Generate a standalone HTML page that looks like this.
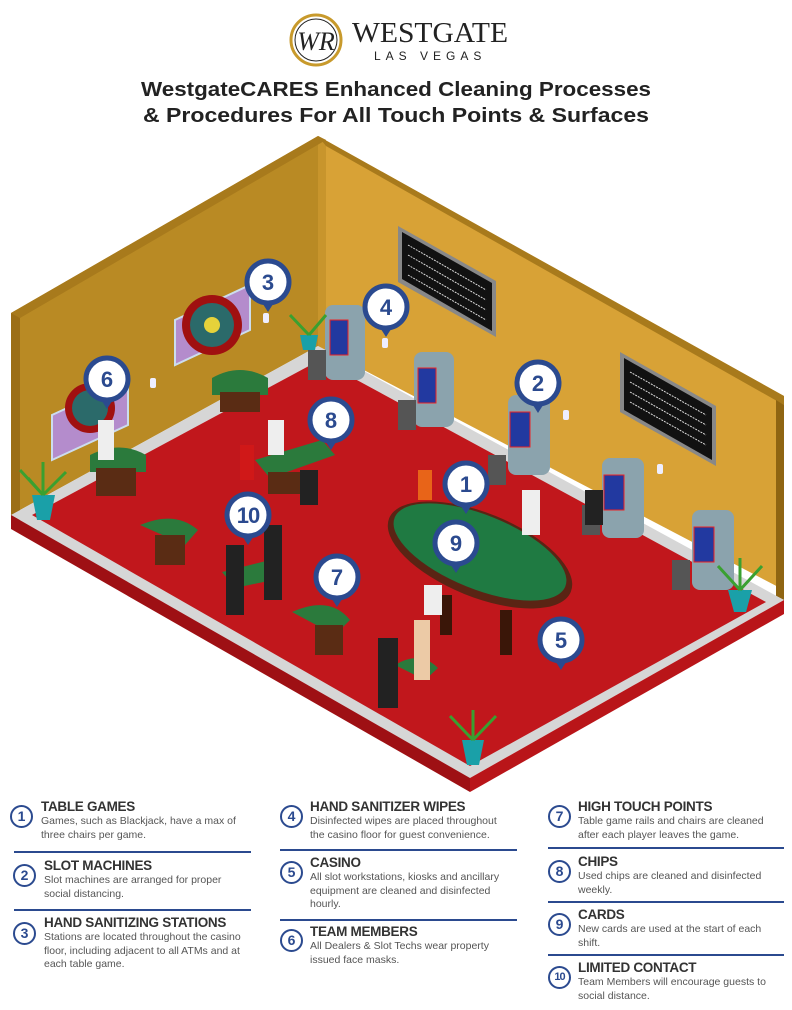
<!DOCTYPE html>
<html><head><meta charset="utf-8"><style>
html,body{margin:0;padding:0;background:#fff;}
body{width:792px;height:1010px;position:relative;overflow:hidden;font-family:"Liberation Sans",sans-serif;}
.t{position:absolute;font-weight:bold;font-size:13.5px;color:#333;letter-spacing:-0.3px;}
.d{position:absolute;font-size:10.5px;color:#555;line-height:13.5px;}
.c{position:absolute;width:19px;height:19px;border:2.5px solid #2b4a8f;border-radius:50%;color:#2b4a8f;font-weight:bold;font-size:14px;text-align:center;line-height:19px;background:#fff;}
.c.s{font-size:11px;letter-spacing:-1px;}
.l{position:absolute;height:2px;background:#2b4a8f;}
</style></head><body>
<svg width="792" height="1010" style="position:absolute;left:0;top:0">
<!-- logo -->
<circle cx="316" cy="40" r="25" fill="none" stroke="#c89a2c" stroke-width="3"/>
<circle cx="316" cy="40" r="21" fill="none" stroke="#222" stroke-width="1"/>
<text x="316" y="50" text-anchor="middle" font-family="Liberation Serif" font-style="italic" font-size="26" fill="#222">WR</text>
<text x="352" y="42" font-family="Liberation Serif" font-size="29" fill="#222" textLength="156" lengthAdjust="spacingAndGlyphs">WESTGATE</text>
<text x="374" y="60" font-family="Liberation Sans" font-size="12" fill="#222" letter-spacing="5">LAS VEGAS</text>
<text x="396" y="96" text-anchor="middle" font-weight="bold" font-size="20" fill="#222" textLength="510" lengthAdjust="spacingAndGlyphs">WestgateCARES Enhanced Cleaning Processes</text>
<text x="396" y="122" text-anchor="middle" font-weight="bold" font-size="20" fill="#222" textLength="506" lengthAdjust="spacingAndGlyphs">&amp; Procedures For All Touch Points &amp; Surfaces</text>

<!-- room -->
<polygon points="11,313 318,136 318,346 11,515" fill="#b98a24"/>
<polygon points="318,136 784,396 784,590 318,346" fill="#d8a236"/>
<polygon points="318,136 326,140 326,350 318,346" fill="#c8952c"/>
<polygon points="11,313 318,136 326,140 20,318" fill="#a87a1c"/>
<polygon points="318,136 784,396 784,405 326,146" fill="#a87a1c"/>
<polygon points="11,313 20,318 20,522 11,515" fill="#9c6e16"/>
<polygon points="776,400 784,405 784,600 776,596" fill="#8f6512"/>
<!-- floor -->
<polygon points="11,515 318,346 784,600 470,778" fill="#d6d6d6"/>
<polygon points="32,515 320,360 766,602 470,766" fill="#c1171c"/>
<polygon points="11,515 470,778 470,792 11,529" fill="#9e1014"/>
<polygon points="470,778 784,600 784,614 470,792" fill="#b91519"/>

<!-- boards -->
<polygon points="398,226 496,281 496,337 398,282" fill="#888"/>
<polygon points="402,232 492,283 492,331 402,279" fill="#111"/>
<polygon points="620,352 716,406 716,466 620,412" fill="#888"/>
<polygon points="624,358 712,408 712,460 624,410" fill="#111"/>
<g stroke="#ddd" stroke-width="1" stroke-dasharray="2 1">
<line x1="408" y1="245" x2="486" y2="290"/><line x1="408" y1="255" x2="486" y2="300"/><line x1="408" y1="265" x2="486" y2="310"/><line x1="408" y1="275" x2="486" y2="320"/>
<line x1="630" y1="372" x2="706" y2="415"/><line x1="630" y1="382" x2="706" y2="425"/><line x1="630" y1="392" x2="706" y2="435"/><line x1="630" y1="402" x2="706" y2="445"/>
</g>

<!-- wheels -->
<polygon points="175,320 250,285 250,330 175,365" fill="#b48ccc" stroke="#cde" stroke-width="2"/>
<circle cx="212" cy="325" r="30" fill="#a01010"/><circle cx="212" cy="325" r="22" fill="#2b6a6a"/><circle cx="212" cy="325" r="8" fill="#e6d23a"/>
<polygon points="52,415 128,380 128,425 52,460" fill="#b48ccc" stroke="#cde" stroke-width="2"/>
<circle cx="90" cy="408" r="25" fill="#a01010"/><circle cx="90" cy="408" r="18" fill="#2b6a6a"/>

<!-- sanitizers -->
<g fill="#eef">
<rect x="263" y="313" width="6" height="10" rx="2"/><rect x="150" y="378" width="6" height="10" rx="2"/><rect x="382" y="338" width="6" height="10" rx="2"/>
<rect x="563" y="410" width="6" height="10" rx="2"/><rect x="657" y="464" width="6" height="10" rx="2"/>
</g>

<!-- slot machines -->
<g>
<rect x="325" y="305" width="40" height="75" rx="8" fill="#8ba3ad"/><rect x="330" y="320" width="18" height="35" fill="#2239a0" stroke="#e22"/>
<rect x="414" y="352" width="40" height="75" rx="8" fill="#8ba3ad"/><rect x="418" y="368" width="18" height="35" fill="#2239a0" stroke="#e22"/>
<rect x="508" y="395" width="42" height="80" rx="8" fill="#8ba3ad"/><rect x="510" y="412" width="20" height="35" fill="#2239a0" stroke="#e22"/>
<rect x="602" y="458" width="42" height="80" rx="8" fill="#8ba3ad"/><rect x="604" y="475" width="20" height="35" fill="#2239a0" stroke="#e22"/>
<rect x="692" y="510" width="42" height="80" rx="8" fill="#8ba3ad"/><rect x="694" y="527" width="20" height="35" fill="#2239a0" stroke="#e22"/>
</g>
<g fill="#555">
<rect x="308" y="350" width="18" height="30"/><rect x="398" y="400" width="18" height="30"/><rect x="488" y="455" width="18" height="30"/>
<rect x="582" y="505" width="18" height="30"/><rect x="672" y="560" width="18" height="30"/>
</g>

<!-- small tables -->
<g>
<path d="M212,378 Q240,362 268,378 L268,395 L212,395Z" fill="#2b7a3c"/><rect x="220" y="392" width="40" height="20" fill="#5a2c14"/>
<path d="M90,455 Q120,440 146,455 L146,472 L90,472Z" fill="#2b7a3c"/><rect x="96" y="468" width="40" height="28" fill="#5a2c14"/>
<path d="M255,460 L322,440 L335,455 L270,478Z" fill="#2b7a3c"/><rect x="268" y="472" width="45" height="22" fill="#5a2c14"/>
<path d="M140,525 Q175,510 198,530 L185,545 Z" fill="#2b7a3c"/><rect x="155" y="535" width="30" height="30" fill="#5a2c14"/>
<path d="M222,572 L270,560 L273,580 L235,588Z" fill="#2b7a3c"/>
<path d="M292,612 Q330,595 350,620 L335,635 Z" fill="#2b7a3c"/><rect x="315" y="625" width="28" height="30" fill="#5a2c14"/>
<path d="M395,665 Q420,650 438,668 L425,680 Z" fill="#2b7a3c"/>
</g>
<ellipse cx="480" cy="555" rx="98" ry="42" transform="rotate(22 480 555)" fill="#5a2414"/>
<ellipse cx="480" cy="552" rx="92" ry="37" transform="rotate(22 480 552)" fill="#1f7a42"/>
<rect x="440" y="595" width="12" height="40" fill="#3a1608"/><rect x="500" y="610" width="12" height="45" fill="#3a1608"/>

<!-- people -->
<g fill="#222">
<rect x="98" y="420" width="16" height="40" fill="#eee"/><rect x="268" y="420" width="16" height="35" fill="#eee"/>
<rect x="418" y="470" width="14" height="30" fill="#e86418"/><rect x="522" y="490" width="18" height="45" fill="#eee"/>
<rect x="424" y="585" width="18" height="30" fill="#eee"/><rect x="414" y="620" width="16" height="60" fill="#eccaa6"/>
<rect x="378" y="638" width="20" height="70"/><rect x="226" y="545" width="18" height="70"/><rect x="264" y="525" width="18" height="75"/>
<rect x="240" y="445" width="14" height="35" fill="#d01818"/><rect x="300" y="470" width="18" height="35"/>
<rect x="585" y="490" width="18" height="35"/>
</g>
<!-- plants -->
<g>
<path d="M32,495 L55,495 L50,520 L37,520Z" fill="#1aa0a8"/><path d="M43,495 L20,470 M43,495 L66,472 M43,495 L43,462 M43,495 L28,478 M43,495 L58,480" stroke="#3aa030" stroke-width="3"/>
<path d="M728,590 L752,590 L746,612 L734,612Z" fill="#1aa0a8"/><path d="M740,590 L718,566 M740,590 L762,566 M740,590 L740,558" stroke="#3aa030" stroke-width="3"/>
<path d="M462,740 L484,740 L479,765 L467,765Z" fill="#1aa0a8"/><path d="M473,740 L450,716 M473,740 L496,716 M473,740 L473,710" stroke="#3aa030" stroke-width="3"/>
<path d="M300,335 L318,335 L315,350 L303,350Z" fill="#1aa0a8"/><path d="M309,335 L290,315 M309,335 L326,315" stroke="#3aa030" stroke-width="3"/>
</g>

<!-- markers -->
<g font-family="Liberation Sans" font-weight="bold" font-size="22" fill="#2b4a8f" text-anchor="middle">
<g transform="translate(268,282)"><path d="M-7,19 L0,30 L7,19Z" fill="#2b4a8f"/><circle r="21" fill="#fff" stroke="#2b4a8f" stroke-width="5"/><text y="8">3</text></g>
<g transform="translate(386,307)"><path d="M-7,19 L0,30 L7,19Z" fill="#2b4a8f"/><circle r="21" fill="#fff" stroke="#2b4a8f" stroke-width="5"/><text y="8">4</text></g>
<g transform="translate(107,379)"><path d="M-7,19 L0,30 L7,19Z" fill="#2b4a8f"/><circle r="21" fill="#fff" stroke="#2b4a8f" stroke-width="5"/><text y="8">6</text></g>
<g transform="translate(538,383)"><path d="M-7,19 L0,30 L7,19Z" fill="#2b4a8f"/><circle r="21" fill="#fff" stroke="#2b4a8f" stroke-width="5"/><text y="8">2</text></g>
<g transform="translate(331,420)"><path d="M-7,19 L0,30 L7,19Z" fill="#2b4a8f"/><circle r="21" fill="#fff" stroke="#2b4a8f" stroke-width="5"/><text y="8">8</text></g>
<g transform="translate(466,484)"><path d="M-7,19 L0,30 L7,19Z" fill="#2b4a8f"/><circle r="21" fill="#fff" stroke="#2b4a8f" stroke-width="5"/><text y="8">1</text></g>
<g transform="translate(456,543)"><path d="M-7,19 L0,30 L7,19Z" fill="#2b4a8f"/><circle r="21" fill="#fff" stroke="#2b4a8f" stroke-width="5"/><text y="8">9</text></g>
<g transform="translate(248,515)"><path d="M-7,19 L0,30 L7,19Z" fill="#2b4a8f"/><circle r="21" fill="#fff" stroke="#2b4a8f" stroke-width="5"/><text y="8" letter-spacing="-1">10</text></g>
<g transform="translate(337,577)"><path d="M-7,19 L0,30 L7,19Z" fill="#2b4a8f"/><circle r="21" fill="#fff" stroke="#2b4a8f" stroke-width="5"/><text y="8">7</text></g>
<g transform="translate(561,640)"><path d="M-7,19 L0,30 L7,19Z" fill="#2b4a8f"/><circle r="21" fill="#fff" stroke="#2b4a8f" stroke-width="5"/><text y="8">5</text></g>
</g>
</svg>

<div class="c" style="left:10px;top:805px">1</div>
<div class="t" style="left:41px;top:799px">TABLE GAMES</div>
<div class="d" style="left:41px;top:815px">Games, such as Blackjack, have a max of<br>three chairs per game.</div>
<div class="l" style="left:14px;top:851px;width:237px"></div>
<div class="c" style="left:13px;top:864px">2</div>
<div class="t" style="left:44px;top:858px">SLOT MACHINES</div>
<div class="d" style="left:44px;top:874px">Slot machines are arranged for proper<br>social distancing.</div>
<div class="l" style="left:14px;top:909px;width:237px"></div>
<div class="c" style="left:13px;top:922px">3</div>
<div class="t" style="left:44px;top:915px">HAND SANITIZING STATIONS</div>
<div class="d" style="left:44px;top:931px">Stations are located throughout the casino<br>floor, including adjacent to all ATMs and at<br>each table game.</div>
<div class="c" style="left:280px;top:805px">4</div>
<div class="t" style="left:310px;top:799px">HAND SANITIZER WIPES</div>
<div class="d" style="left:310px;top:815px">Disinfected wipes are placed throughout<br>the casino floor for guest convenience.</div>
<div class="l" style="left:280px;top:849px;width:237px"></div>
<div class="c" style="left:280px;top:861px">5</div>
<div class="t" style="left:310px;top:855px">CASINO</div>
<div class="d" style="left:310px;top:871px">All slot workstations, kiosks and ancillary<br>equipment are cleaned and disinfected<br>hourly.</div>
<div class="l" style="left:280px;top:919px;width:237px"></div>
<div class="c" style="left:280px;top:929px">6</div>
<div class="t" style="left:310px;top:924px">TEAM MEMBERS</div>
<div class="d" style="left:310px;top:940px">All Dealers &amp; Slot Techs wear property<br>issued face masks.</div>
<div class="c" style="left:548px;top:805px">7</div>
<div class="t" style="left:578px;top:799px">HIGH TOUCH POINTS</div>
<div class="d" style="left:578px;top:815px">Table game rails and chairs are cleaned<br>after each player leaves the game.</div>
<div class="l" style="left:548px;top:847px;width:236px"></div>
<div class="c" style="left:548px;top:860px">8</div>
<div class="t" style="left:578px;top:854px">CHIPS</div>
<div class="d" style="left:578px;top:870px">Used chips are cleaned and disinfected<br>weekly.</div>
<div class="l" style="left:548px;top:901px;width:236px"></div>
<div class="c" style="left:548px;top:913px">9</div>
<div class="t" style="left:578px;top:907px">CARDS</div>
<div class="d" style="left:578px;top:923px">New cards are used at the start of each<br>shift.</div>
<div class="l" style="left:548px;top:954px;width:236px"></div>
<div class="c s" style="left:548px;top:966px">10</div>
<div class="t" style="left:578px;top:960px">LIMITED CONTACT</div>
<div class="d" style="left:578px;top:976px">Team Members will encourage guests to<br>social distance.</div>
</body></html>
